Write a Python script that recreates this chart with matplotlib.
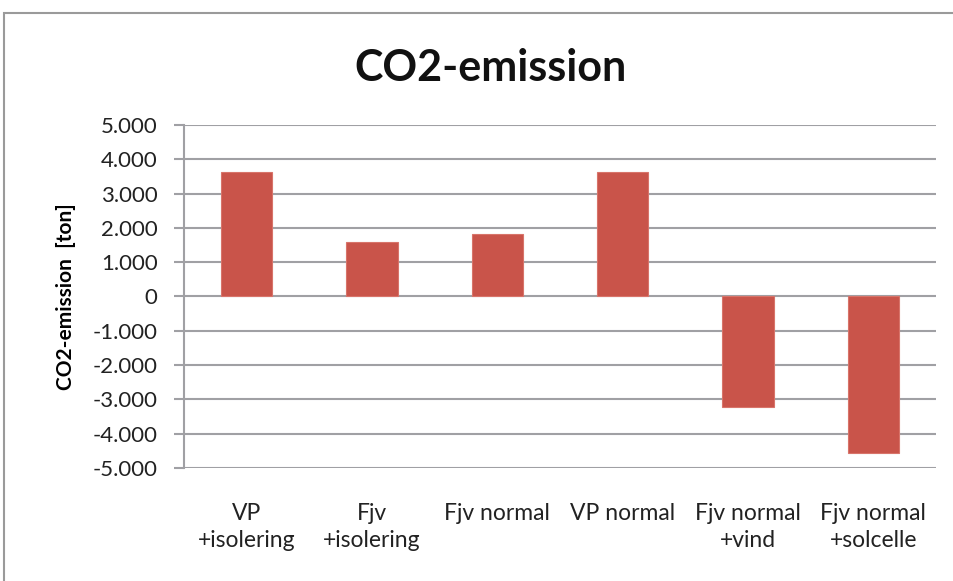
import numpy as np
import matplotlib.pyplot as plt
from matplotlib.ticker import FuncFormatter
from matplotlib.patches import Rectangle

# ── Datos ─────────────────────────────────────────────────────────────────────
kategorier = ["VP\n+isolering", "Fjv\n+isolering", "Fjv normal", "VP normal",
              "Fjv normal\n+vind", "Fjv normal\n+solcelle"]
co2 = [3620, 1590, 1820, 3620, -3230, -4570]
yticks = [-5000, -4000, -3000, -2000, -1000, 0, 1000, 2000, 3000, 4000, 5000]

plt.rcParams['font.family'] = ['Lato', 'DejaVu Sans']

fig = plt.figure(figsize=(9.54, 5.81), dpi=100)
ax = fig.add_axes([0.1929, 0.1945, 0.981 - 0.1929, 0.7849 - 0.1945])

# borde exterior del grafico
fig.patches.append(Rectangle((4 / 954, -0.1), 1.2, 1 - 13 / 581 + 0.1,
                             transform=fig.transFigure, fill=False,
                             edgecolor="#9a9a9a", linewidth=1.5))

x = np.arange(len(kategorier))
ax.bar(x, co2, width=0.41, color="#C9544A", edgecolor="#D8746A", linewidth=0.8, zorder=3)

ax.set_xlim(-0.5, len(kategorier) - 0.5)
ax.set_ylim(-5000, 5000)
ax.set_yticks(yticks)
ax.yaxis.set_major_formatter(FuncFormatter(lambda v, p: f"{v:,.0f}".replace(",", ".")))
ax.grid(axis="y", color="#A0A0A4", linewidth=1.5, zorder=0)
ax.set_axisbelow(True)

for s in ["top", "right", "bottom"]:
    ax.spines[s].set_visible(False)
ax.spines["left"].set_color("#A0A0A4")
ax.spines["left"].set_linewidth(1.5)

ax.tick_params(axis="y", length=7, width=1.5, color="#A0A0A4", pad=12,
               labelsize=16, labelcolor="#222222")
ax.set_xticks(x)
ax.set_xticklabels(kategorier, fontsize=16.5, color="#222222", linespacing=1.35,
                   va="top")
ax.tick_params(axis="x", length=0, pad=25)

ax.set_ylabel("CO2-emission  [ton]", fontsize=15, fontweight="bold", labelpad=12)
fig.text(0.514, 0.883, "CO2-emission", ha="center", va="center",
         fontsize=31, fontweight="bold", color="#111111")

fig.savefig("out.png", dpi=100)
